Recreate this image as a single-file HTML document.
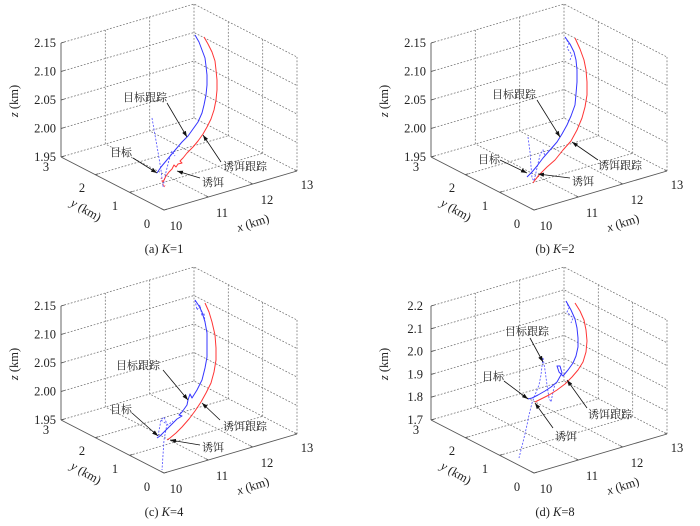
<!DOCTYPE html>
<html>
<head>
<meta charset="utf-8">
<style>
html,body{margin:0;padding:0;background:#fff;}
svg{display:block;}
.grid{fill:none;stroke:#707070;stroke-width:0.75;stroke-dasharray:1.8,1.6;}
.ax{fill:none;stroke:#555;stroke-width:0.9;}
.tk{font-family:"Liberation Serif","DejaVu Serif",serif;font-size:12.5px;fill:#222;}
.cn{font-family:"Liberation Serif","Noto Serif CJK SC",serif;font-size:11px;fill:#222;}
.bl{fill:none;stroke:#3535ff;stroke-width:1;stroke-linejoin:round;}
.bld{fill:none;stroke:#5555ff;stroke-width:0.85;stroke-dasharray:2,1.5;}
.rd{fill:none;stroke:#ff3535;stroke-width:1;stroke-linejoin:round;}
.rdd{fill:none;stroke:#ff5555;stroke-width:0.85;stroke-dasharray:2,1.5;}
.ar{fill:none;stroke:#111;stroke-width:0.8;}
</style>
</head>
<body>
<svg width="700" height="526" viewBox="0 0 700 526" xmlns="http://www.w3.org/2000/svg">
<defs>
<marker id="ah" viewBox="0 0 10 10" refX="10" refY="5" markerWidth="6" markerHeight="6" orient="auto" markerUnits="userSpaceOnUse">
<path d="M0,1.5 L10,5 L0,8.5 z" fill="#111"/>
</marker>
<g id="box">
<path class="grid" d="M105.3,144 V30 M149.7,131 V17 M194,118 V4 M228.3,135.7 V21.7 M262.7,153.3 V39.3 M297,171 V57
M129.7,192.3 L262.7,153.3 M95.3,174.7 L228.3,135.7 M208.3,197 L105.3,144 M252.7,184 L149.7,131"/>
<path class="ax" d="M61,157 V43 M61,157 L164,210 L297,171"/>
<path class="ax" d="M164,210 l-2.7,-1.4 M208.3,197 l-2.7,-1.4 M252.7,184 l-2.7,-1.4 M297,171 l-2.7,-1.4
M61,157 l2.9,-0.85 M95.3,174.7 l2.9,-0.85 M129.7,192.3 l2.9,-0.85 M164,210 l2.9,-0.85"/>
</g>
<g id="zgrid5">
<path class="grid" d="M61,157 L194,118 L297,171 M61,128.5 L194,89.5 L297,142.5 M61,100 L194,61 L297,114 M61,71.5 L194,32.5 L297,85.5 M61,43 L194,4 L297,57"/>
<path class="ax" d="M61,157 l3.5,-1 M61,128.5 l3.5,-1 M61,100 l3.5,-1 M61,71.5 l3.5,-1 M61,43 l3.5,-1"/>
</g>
<g id="zgrid6">
<path class="grid" d="M61,157 L194,118 L297,171 M61,134.2 L194,95.2 L297,148.2 M61,111.4 L194,72.4 L297,125.4 M61,88.6 L194,49.6 L297,102.6 M61,65.8 L194,26.8 L297,79.8 M61,43 L194,4 L297,57"/>
<path class="ax" d="M61,157 l3.5,-1 M61,134.2 l3.5,-1 M61,111.4 l3.5,-1 M61,88.6 l3.5,-1 M61,65.8 l3.5,-1 M61,43 l3.5,-1"/>
</g>
</defs>

<!-- (a) -->
<g>
<use href="#zgrid5"/><use href="#box"/>
<g class="tk" font-family="Liberation Serif, DejaVu Serif, serif" text-anchor="end">
<text x="56" y="47">2.15</text><text x="56" y="75.5">2.10</text><text x="56" y="104">2.05</text><text x="56" y="132.5">2.00</text><text x="56" y="161">1.95</text>
</g>
<g class="tk" font-family="Liberation Serif, DejaVu Serif, serif" text-anchor="middle">
<text x="46" y="171">3</text><text x="82" y="192">2</text><text x="115" y="210">1</text><text x="147" y="228">0</text>
<text x="176" y="230">10</text><text x="222" y="217">11</text><text x="267" y="204">12</text><text x="307" y="189">13</text>
<text transform="translate(14,101) rotate(-90)" y="4"><tspan font-style="italic">z</tspan> (km)</text>
<text transform="translate(86,210) rotate(30)" y="4"><tspan font-style="italic">y</tspan> (km)</text>
<text transform="translate(253,223) rotate(-18)" y="4"><tspan font-style="italic">x</tspan> (km)</text>
<text x="164" y="253">(a) <tspan font-style="italic">K</tspan>=1</text>
</g>
</g>

<!-- (b) -->
<g transform="translate(370,0)">
<use href="#zgrid5"/><use href="#box"/>
<g class="tk" font-family="Liberation Serif, DejaVu Serif, serif" text-anchor="end">
<text x="56" y="47">2.15</text><text x="56" y="75.5">2.10</text><text x="56" y="104">2.05</text><text x="56" y="132.5">2.00</text><text x="56" y="161">1.95</text>
</g>
<g class="tk" font-family="Liberation Serif, DejaVu Serif, serif" text-anchor="middle">
<text x="46" y="171">3</text><text x="82" y="192">2</text><text x="115" y="210">1</text><text x="147" y="228">0</text>
<text x="176" y="230">10</text><text x="222" y="217">11</text><text x="267" y="204">12</text><text x="307" y="189">13</text>
<text transform="translate(14,101) rotate(-90)" y="4"><tspan font-style="italic">z</tspan> (km)</text>
<text transform="translate(86,210) rotate(30)" y="4"><tspan font-style="italic">y</tspan> (km)</text>
<text transform="translate(253,223) rotate(-18)" y="4"><tspan font-style="italic">x</tspan> (km)</text>
<text x="185" y="253">(b) <tspan font-style="italic">K</tspan>=2</text>
</g>
</g>

<!-- (c) -->
<g transform="translate(0,263)">
<use href="#zgrid5"/><use href="#box"/>
<g class="tk" font-family="Liberation Serif, DejaVu Serif, serif" text-anchor="end">
<text x="56" y="47">2.15</text><text x="56" y="75.5">2.10</text><text x="56" y="104">2.05</text><text x="56" y="132.5">2.00</text><text x="56" y="161">1.95</text>
</g>
<g class="tk" font-family="Liberation Serif, DejaVu Serif, serif" text-anchor="middle">
<text x="46" y="171">3</text><text x="82" y="192">2</text><text x="115" y="210">1</text><text x="147" y="228">0</text>
<text x="176" y="230">10</text><text x="222" y="217">11</text><text x="267" y="204">12</text><text x="307" y="189">13</text>
<text transform="translate(14,101) rotate(-90)" y="4"><tspan font-style="italic">z</tspan> (km)</text>
<text transform="translate(86,210) rotate(30)" y="4"><tspan font-style="italic">y</tspan> (km)</text>
<text transform="translate(253,223) rotate(-18)" y="4"><tspan font-style="italic">x</tspan> (km)</text>
<text x="164" y="253">(c) <tspan font-style="italic">K</tspan>=4</text>
</g>
</g>

<!-- (d) -->
<g transform="translate(370,263)">
<use href="#zgrid6"/><use href="#box"/>
<g class="tk" font-family="Liberation Serif, DejaVu Serif, serif" text-anchor="end">
<text x="53" y="47">2.2</text><text x="53" y="69.8">2.1</text><text x="53" y="92.6">2.0</text><text x="53" y="115.4">1.9</text><text x="53" y="138.2">1.8</text><text x="53" y="161">1.7</text>
</g>
<g class="tk" font-family="Liberation Serif, DejaVu Serif, serif" text-anchor="middle">
<text x="46" y="171">3</text><text x="82" y="192">2</text><text x="115" y="210">1</text><text x="147" y="228">0</text>
<text x="176" y="230">10</text><text x="222" y="217">11</text><text x="267" y="204">12</text><text x="307" y="189">13</text>
<text transform="translate(14,101) rotate(-90)" y="4"><tspan font-style="italic">z</tspan> (km)</text>
<text transform="translate(86,210) rotate(30)" y="4"><tspan font-style="italic">y</tspan> (km)</text>
<text transform="translate(253,223) rotate(-18)" y="4"><tspan font-style="italic">x</tspan> (km)</text>
<text x="185" y="253">(d) <tspan font-style="italic">K</tspan>=8</text>
</g>
</g>

<!-- ============ Curves ============ -->
<!-- (a) -->
<path class="bld" d="M152,118 L155,135 L158,152 L161,170 L163,187 L166,172 L169,160 L172,151 L175,156"/>
<path class="bl" d="M195,35 L199,42 L202,50 L205,58 L206,66 L207,75 L207,85 L206,95 L204,105 L202,113 L198,122 L193,129 L188,136 L182,142 L176,149 L171,155 L166,161 L161,167 L157,173"/>
<path class="rd" d="M204,37 L208,44 L212,52 L215,61 L216,70 L217,80 L217,90 L216,100 L214,110 L211,119 L207,127 L203,134 L198,141 L193,147 L187,153 L183,158 L180,161 L182,163 L178,164 L176,167 L174,165 L172,169 L169,172 L166,176 L163,182"/>
<path class="rdd" d="M163,182 L161,178 L164,187 L166,184"/>

<!-- (b) -->
<path class="bld" d="M528,137 L530,152 L531,166 L532,178 L534,181 L537,168 L540,155 L543,150 L545,156"/>
<path class="bld" d="M565,37 L569,44 L567,48 L572,55 L570,60"/>
<path class="bl" d="M565,37 L570,44 L574,52 L576,60 L577,70 L577,82 L576,94 L575,105 L571,116 L567,125 L562,134 L557,142 L550,150 L543,158 L537,166 L532,172 L527,177"/>
<path class="rd" d="M575,38 L580,49 L584,60 L586,70 L587,82 L587,95 L585,107 L582,118 L577,130 L571,141 L563,150 L555,160 L547,167 L540,174 L535,180 L533,183"/>

<!-- (c) -->
<path class="bld" d="M158,436 L161,420 L164,417 L167,424 L164,440 L163,455 L162,470"/>
<path class="bld" d="M161,420 L168,425 L173,421"/>
<path class="bld" d="M195,300 L197,310 L200,305 L202,316 L204,313 L205,322"/>
<path class="bl" d="M195,300 L199,306 L202,312 L205,322 L207,333 L207,345 L207,357 L205,368 L202,380 L197,390 L192,398 L190,394 L188,400 L187,405 L182,412 L179,415 L182,416 L177,419 L172,424 L166,430 L160,436 L157,438"/>
<path class="rd" d="M205,303 L209,312 L212,322 L215,335 L216,348 L216,360 L214,372 L211,383 L206,393 L201,402 L195,411 L189,419 L182,427 L176,433 L170,438 L167,440"/>

<!-- (d) -->
<path class="bld" d="M543,358 L542,366 L541,375 L539,385 L535,395 L532,403 L529,415 L527,425 L524,438 L521,450 L519,458"/>
<path class="bld" d="M543,358 L545,370 L547,385 L549,398 L551,402 L553,392 L555,384"/>
<path class="bld" d="M566,301 L569,308 L567,312 L573,318 L571,323"/>
<path class="bl" d="M566,301 L571,310 L575,319 L577,328 L578,338 L578,347 L576,356 L573,363 L568,370 L563,376 L559,372 L557,366 L560,366 L562,373 L557,382 L551,387 L545,391 L538,395 L532,398 L528,399"/>
<path class="rd" d="M575,303 L580,311 L584,320 L586,330 L587,341 L586,352 L583,362 L578,370 L572,377 L565,384 L557,390 L549,395 L541,399 L535,402"/>

<!-- ============ Annotations ============ -->
<g class="ar">
<line x1="167" y1="103" x2="187" y2="137" marker-end="url(#ah)"/>
<line x1="133" y1="158" x2="157" y2="173" marker-end="url(#ah)"/>
<line x1="221" y1="162" x2="203" y2="135" marker-end="url(#ah)"/>
<line x1="200" y1="178" x2="177" y2="171" marker-end="url(#ah)"/>
<line x1="537" y1="100" x2="560" y2="137" marker-end="url(#ah)"/>
<line x1="500" y1="160" x2="527" y2="173" marker-end="url(#ah)"/>
<line x1="598" y1="160" x2="572" y2="142" marker-end="url(#ah)"/>
<line x1="570" y1="178" x2="538" y2="174" marker-end="url(#ah)"/>
<line x1="163" y1="370" x2="188" y2="400" marker-end="url(#ah)"/>
<line x1="132" y1="413" x2="158" y2="436" marker-end="url(#ah)"/>
<line x1="220" y1="420" x2="202" y2="403" marker-end="url(#ah)"/>
<line x1="200" y1="445" x2="170" y2="440" marker-end="url(#ah)"/>
<line x1="530" y1="338" x2="543" y2="362" marker-end="url(#ah)"/>
<line x1="504" y1="381" x2="528" y2="399" marker-end="url(#ah)"/>
<line x1="587" y1="408" x2="567" y2="380" marker-end="url(#ah)"/>
<line x1="553" y1="428" x2="535" y2="403" marker-end="url(#ah)"/>
</g>
<g class="cn" font-family="Liberation Serif, Noto Serif CJK SC, serif">
<text x="123" y="101">目标跟踪</text>
<text x="110" y="156">目标</text>
<text x="223" y="170">诱饵跟踪</text>
<text x="202" y="186">诱饵</text>
<text x="492" y="98">目标跟踪</text>
<text x="478" y="163">目标</text>
<text x="598" y="169">诱饵跟踪</text>
<text x="572" y="185">诱饵</text>
<text x="116" y="369">目标跟踪</text>
<text x="110" y="413">目标</text>
<text x="223" y="430">诱饵跟踪</text>
<text x="202" y="451">诱饵</text>
<text x="505" y="335">目标跟踪</text>
<text x="482" y="380">目标</text>
<text x="588" y="418">诱饵跟踪</text>
<text x="555" y="440">诱饵</text>
</g>
</svg>
</body>
</html>
